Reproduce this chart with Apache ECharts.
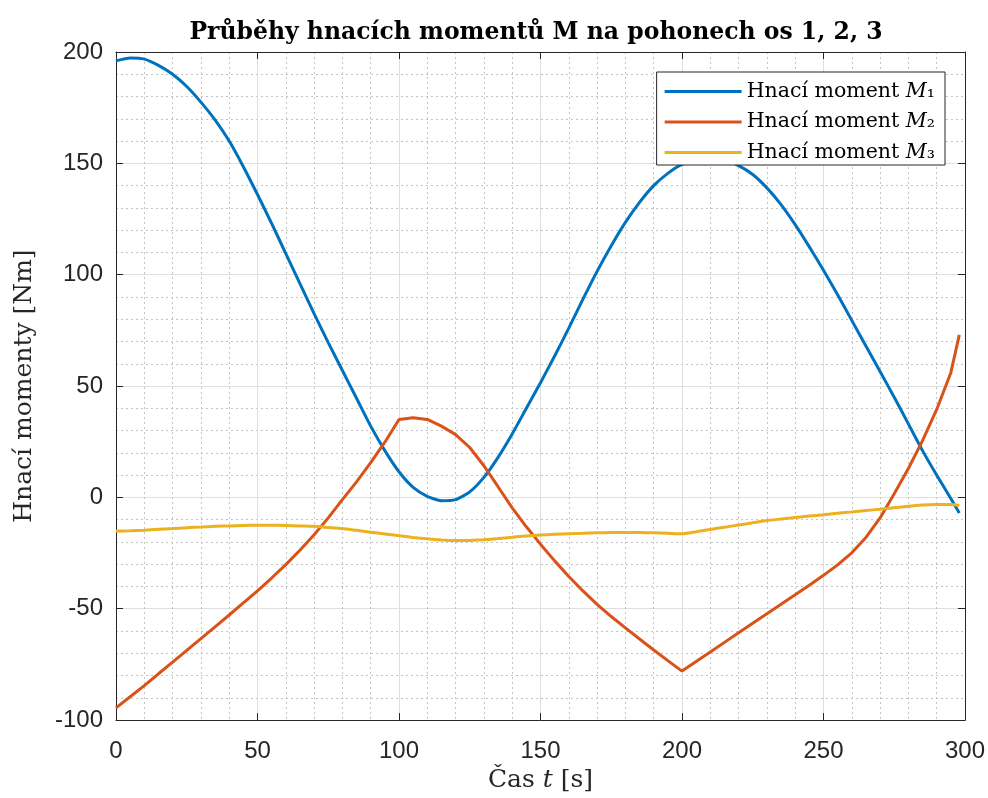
<!DOCTYPE html>
<html>
<head>
<meta charset="utf-8">
<script src="https://cdn.jsdelivr.net/npm/echarts@6/dist/echarts.min.js"></script>
<style>html,body{margin:0;padding:0;background:#fff}#c{width:988px;height:798px}</style>
</head>
<body>
<div id="c"></div>
<script>
const time = [0,5,10,15,20,25,30,35,40,45,50,55,60,65,70,75,80,85,90,95,100,105,110,115,120,125,130,135,140,145,150,155,160,165,170,175,180,185,190,195,200,205,210,215,220,225,230,235,240,245,250,255,260,265,270,275,280,285,290,295,298];
const m1 = [196,197.3,196.8,194,190,184.5,177.5,169.5,160,148.5,136,123,109.5,96,82.5,69.5,57,44.5,32,21,11.5,4.5,0.5,-1.5,-1,2.5,9,18,28.5,40,51.5,63.5,76,89,101.5,113,123.5,132.5,140,145.5,149.5,151.5,152,151.5,149,145,139,131.5,122.5,112.5,102,91,79.5,68,56.5,45,33,21,10,-0.5,-7];
const m2 = [-94.5,-89.5,-84.5,-79.2,-74,-68.7,-63.4,-58.1,-52.8,-47.4,-42,-36.2,-30.2,-23.7,-16.8,-9.2,-1,7,15.6,24.8,35,35.8,35,32,28.2,22.4,14.2,4.8,-4.7,-13.2,-21,-28.5,-35.5,-42,-48,-53.5,-58.6,-63.6,-68.5,-73.3,-78,-73.7,-69.4,-65.1,-60.8,-56.5,-52.2,-48,-43.7,-39.4,-35,-30.3,-24.9,-18,-9.2,1.6,13,25.5,39.5,56,73];
const m3 = [-15.2,-15,-14.7,-14.3,-14,-13.6,-13.3,-13,-12.8,-12.6,-12.5,-12.5,-12.6,-12.8,-13,-13.5,-14,-14.8,-15.6,-16.4,-17.2,-18,-18.6,-19.1,-19.4,-19.3,-19,-18.5,-17.9,-17.3,-16.9,-16.6,-16.3,-16.1,-15.9,-15.8,-15.8,-15.8,-15.9,-16.1,-16.3,-15.4,-14.4,-13.4,-12.4,-11.4,-10.4,-9.7,-9,-8.4,-7.8,-7.1,-6.5,-5.9,-5.3,-4.6,-4,-3.4,-3.2,-3.2,-3.6];
const seriesNames = ['Hnací moment M1','Hnací moment M2','Hnací moment M3'];
const subs = {'M1':'₁','M2':'₂','M3':'₃'};
const colors = ['#0072BD','#D95319','#EDB120'];
const titleText = 'Průběhy hnacích momentů M na pohonech os 1, 2, 3';

const pairs = v => time.map((t,i)=>[t,v[i]]);
const axisCol = '#262626';
const serif = 'DejaVu Serif';
const sans = 'Liberation Sans';

function baseX(pos, main){
  return {
    type:'value', min:0, max:300, interval:50, position:pos,
    axisLine:{show:true,onZero:false,lineStyle:{color:axisCol,width:1}},
    axisTick:{show:true,inside:true,length:7,lineStyle:{color:axisCol}},
    axisLabel:{show:main,fontSize:24,color:axisCol,fontFamily:sans,margin:19},
    splitLine:{show:main,lineStyle:{color:'#dfdfdf',width:1}},
    minorTick:{show:false,splitNumber:5},
    minorSplitLine:{show:main,lineStyle:{color:'#c4c4c4',width:1,type:[2,3]}}
  };
}
function baseY(pos, main){
  return {
    type:'value', min:-100, max:200, interval:50, position:pos,
    axisLine:{show:true,onZero:false,lineStyle:{color:axisCol,width:1}},
    axisTick:{show:true,inside:true,length:7,lineStyle:{color:axisCol}},
    axisLabel:{show:main,fontSize:24,color:axisCol,fontFamily:sans,margin:13},
    splitLine:{show:main,lineStyle:{color:'#dfdfdf',width:1}},
    minorTick:{show:false,splitNumber:5},
    minorSplitLine:{show:main,lineStyle:{color:'#c4c4c4',width:1,type:[2,3]}}
  };
}
const x0 = baseX('bottom', true);
x0.name = '{a|Čas }{i|t}{a| [s]}';
x0.nameLocation = 'middle';
x0.nameGap = 46;
x0.nameTextStyle = {fontFamily:serif,fontSize:25,color:axisCol,
  rich:{a:{fontFamily:serif,fontSize:25,color:axisCol},i:{fontFamily:serif,fontSize:25,fontStyle:'italic',color:axisCol}}};
const y0 = baseY('left', true);
y0.name = 'Hnací momenty [Nm]';
y0.nameLocation = 'middle';
y0.nameGap = 79;
y0.nameTextStyle = {fontFamily:serif,fontSize:25,color:axisCol};

const chart = echarts.init(document.getElementById('c'), null, {renderer:'canvas'});
chart.setOption({
  animation:false,
  backgroundColor:'#fff',
  color:colors,
  title:{text:titleText,left:531,textAlign:'center',top:16,
    textStyle:{fontFamily:serif,fontWeight:'bold',fontSize:23.5,color:'#000'}},
  grid:{left:116,right:23,top:52,bottom:77,containLabel:false},
  xAxis:[x0, baseX('top', false)],
  yAxis:[y0, baseY('right', false)],
  legend:{orient:'vertical',right:43,top:72,backgroundColor:'#fff',borderColor:axisCol,borderWidth:1,
    padding:[9,10,2,8],itemGap:9.5,itemWidth:77,itemHeight:3,itemTextGap:8,icon:'rect',
    data:seriesNames,
    formatter:function(n){const k=n.slice(-2);return '{a|Hnací moment }{i|M}{a|'+subs[k]+'}';},
    textStyle:{fontFamily:serif,fontSize:20.5,color:'#000',
      rich:{a:{fontFamily:serif,fontSize:20.5,color:'#000'},i:{fontFamily:serif,fontSize:20.5,fontStyle:'italic',color:'#000'}}}},
  series:[
    {name:seriesNames[0],type:'line',data:pairs(m1),smooth:0.2,showSymbol:false,symbol:'none',lineStyle:{width:3,color:colors[0]},itemStyle:{color:colors[0]}},
    {name:seriesNames[1],type:'line',data:pairs(m2),smooth:false,showSymbol:false,symbol:'none',lineStyle:{width:3,color:colors[1]},itemStyle:{color:colors[1]}},
    {name:seriesNames[2],type:'line',data:pairs(m3),smooth:0.2,showSymbol:false,symbol:'none',lineStyle:{width:3,color:colors[2]},itemStyle:{color:colors[2]}}
  ]
});
</script>
</body>
</html>
